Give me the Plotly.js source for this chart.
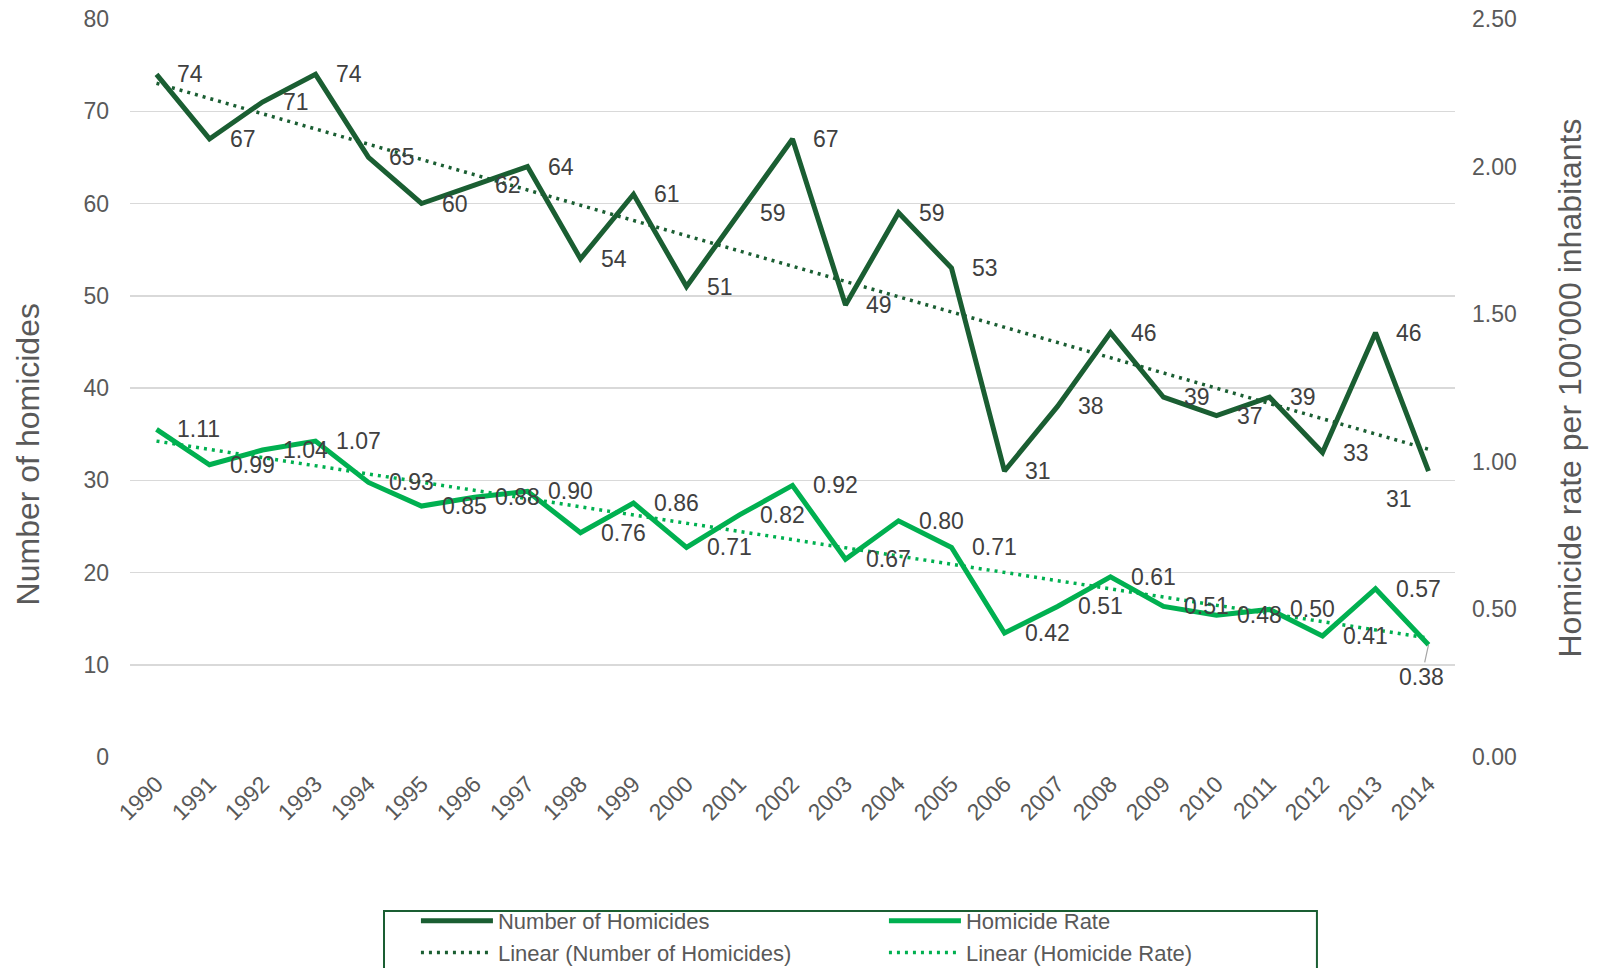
<!DOCTYPE html>
<html>
<head>
<meta charset="utf-8">
<script src="https://cdn.plot.ly/plotly-3.0.1.min.js"></script>
<style>html,body{margin:0;padding:0;background:#fff;}#chart{width:1604px;height:968px;}</style>
</head>
<body>
<div id="chart"></div>
<script>
var years = ['1990','1991','1992','1993','1994','1995','1996','1997','1998','1999','2000','2001','2002','2003','2004','2005','2006','2007','2008','2009','2010','2011','2012','2013','2014'];
var homicides = [74,67,71,74,65,60,62,64,54,61,51,59,67,49,59,53,31,38,46,39,37,39,33,46,31];
var rates = [1.11,0.99,1.04,1.07,0.93,0.85,0.88,0.90,0.76,0.86,0.71,0.82,0.92,0.67,0.80,0.71,0.42,0.51,0.61,0.51,0.48,0.50,0.41,0.57,0.38];

var DARK = '#1A5E32';
var LIGHT = '#00B050';
var FONT = '"Liberation Sans", Arial, sans-serif';

function linearFit(vals) {
  var n = vals.length, sx = 0, sy = 0, sxx = 0, sxy = 0;
  for (var i = 0; i < n; i++) { sx += i; sy += vals[i]; sxx += i * i; sxy += i * vals[i]; }
  var b = (n * sxy - sx * sy) / (n * sxx - sx * sx);
  var a = (sy - b * sx) / n;
  return vals.map(function (_, i) { return a + b * i; });
}

var traces = [
  {x: years, y: homicides, name: 'Number of Homicides', type: 'scatter', mode: 'lines',
   line: {color: DARK, width: 5}, yaxis: 'y', hoverinfo: 'skip'},
  {x: years, y: rates, name: 'Homicide Rate', type: 'scatter', mode: 'lines',
   line: {color: LIGHT, width: 5}, yaxis: 'y2', hoverinfo: 'skip'},
  {x: years, y: linearFit(homicides), name: 'Linear (Number of Homicides)', type: 'scatter', mode: 'lines',
   line: {color: DARK, width: 3.5, dash: '3px,5px'}, yaxis: 'y', hoverinfo: 'skip'},
  {x: years, y: linearFit(rates), name: 'Linear (Homicide Rate)', type: 'scatter', mode: 'lines',
   line: {color: LIGHT, width: 3.5, dash: '3px,5px'}, yaxis: 'y2', hoverinfo: 'skip'}
];

var labelFont = {family: FONT, size: 23, color: '#404040'};
var annotations = [];
var last = years.length - 1;
years.forEach(function (yr, i) {
  if (i === last) {
    annotations.push({x: i, y: homicides[i], xref: 'x', yref: 'y', text: String(homicides[i]),
      showarrow: false, xanchor: 'right', yanchor: 'middle', xshift: -15, yshift: -28, font: labelFont});
    annotations.push({x: i, y: rates[i], xref: 'x', yref: 'y2', text: rates[i].toFixed(2),
      showarrow: true, arrowhead: 0, arrowwidth: 1.2, arrowcolor: '#a6a6a6', ax: -7, ay: 32,
      standoff: 0, font: labelFont});
  } else {
    annotations.push({x: i, y: homicides[i], xref: 'x', yref: 'y', text: String(homicides[i]),
      showarrow: false, xanchor: 'left', yanchor: 'middle', xshift: 18, font: labelFont});
    annotations.push({x: i, y: rates[i], xref: 'x', yref: 'y2', text: rates[i].toFixed(2),
      showarrow: false, xanchor: 'left', yanchor: 'middle', xshift: 18, font: labelFont});
  }
});
annotations.push({xref: 'paper', yref: 'paper', x: -0.077, y: 0.41, text: 'Number of homicides',
  textangle: -90, showarrow: false, xanchor: 'center', yanchor: 'middle',
  font: {family: FONT, size: 32, color: '#595959'}});

var tickFont = {family: FONT, size: 23, color: '#595959'};
var layout = {
  width: 1604, height: 968,
  margin: {l: 130, r: 149, t: 19, b: 211, autoexpand: false},
  paper_bgcolor: '#ffffff', plot_bgcolor: '#ffffff',
  font: {family: FONT, color: '#595959'},
  showlegend: true,
  xaxis: {type: 'category', range: [-0.5, 24.5], showgrid: false, zeroline: false, showline: false,
    ticks: '', tickangle: -45, tickfont: tickFont, ticklabelstandoff: 8, fixedrange: true},
  yaxis: {range: [0, 80], dtick: 10, showgrid: true, gridcolor: '#d9d9d9', gridwidth: 1.5,
    zeroline: false, showline: false, ticks: '', tickfont: tickFont, ticklabelstandoff: 20, fixedrange: true},
  yaxis2: {range: [0, 2.5], dtick: 0.5, tickformat: '.2f', overlaying: 'y', side: 'right',
    showgrid: false, zeroline: false, showline: false, ticks: '', tickfont: tickFont,
    ticklabelstandoff: 16, fixedrange: true,
    title: {text: 'Homicide rate per 100\u2019000 inhabitants', font: {family: FONT, size: 32, color: '#595959'}, standoff: 42}},
  legend: {orientation: 'h', x: 0.2158, xanchor: 'left', y: -0.1938, yanchor: 'top',
    bgcolor: 'rgba(0,0,0,0)', borderwidth: 0,
    font: {family: FONT, size: 22, color: '#595959'},
    entrywidth: 381, itemwidth: 72, traceorder: 'normal'},
  shapes: [{type: 'rect', xref: 'paper', yref: 'paper', x0: 0.1917, x1: 0.8958, y0: -0.2087, y1: -0.32,
    line: {color: DARK, width: 2}, fillcolor: 'rgba(0,0,0,0)', layer: 'above'}],
  annotations: annotations
};

Plotly.newPlot('chart', traces, layout, {displayModeBar: false, staticPlot: true});
</script>
</body>
</html>
